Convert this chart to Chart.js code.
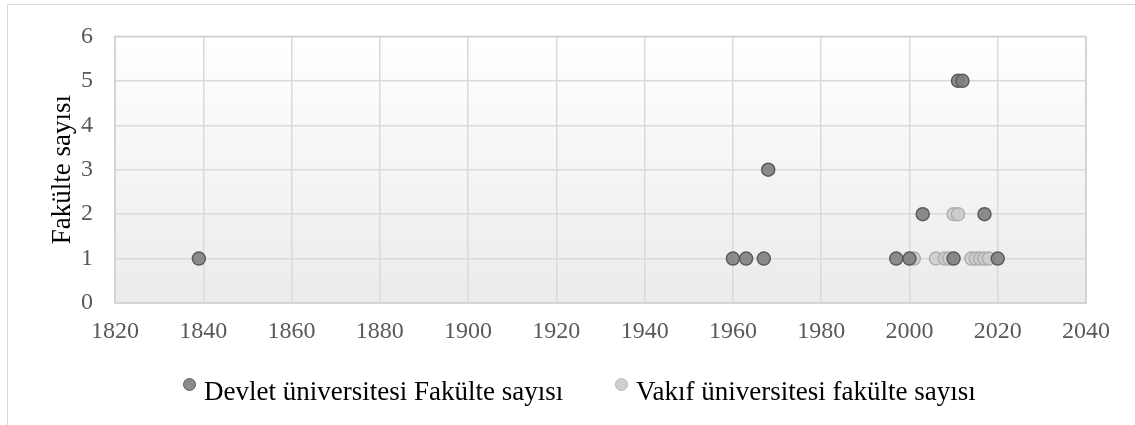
<!DOCTYPE html>
<html>
<head>
<meta charset="utf-8">
<script src="https://cdn.jsdelivr.net/npm/chart.js@4"></script>
<style>
    body { margin: 0; background: #fff; }
    #wrap { position: relative; width: 1135px; height: 425px; overflow: hidden; }
    #frame { position: absolute; left: 7px; top: 4px; width: 1140px; height: 440px; border: 1.5px solid #d9d9d9; }
    #legend { position: absolute; top: 376px; left: 0; width: 1135px; font-family: "Liberation Serif", serif; font-size: 27px; line-height: 31px; color: #000; }
    .item { position: absolute; white-space: nowrap; }
    .dot { display: inline-block; width: 11px; height: 11px; border-radius: 50%; margin-right: 8px; vertical-align: 9px; }
</style>
</head>
<body>
<div id="wrap">
    <div id="frame"></div>
    <canvas id="chart" width="1135" height="425" style="position:absolute;left:0;top:0"></canvas>
    <div id="legend">
        <span class="item" style="left:183px"><span class="dot" style="background:#8a8a8a;border:1px solid #5f5f5f"></span>Devlet üniversitesi Fakülte sayısı</span>
        <span class="item" style="left:615px"><span class="dot" style="background:#cfcfcf;border:1px solid #b5b5b5"></span>Vakıf üniversitesi fakülte sayısı</span>
    </div>
</div>
<script>
// -------------------------------
// DATA
// -------------------------------
const devletYears  = [1839, 1960, 1963, 1967, 1968, 1997, 2000, 2003, 2010, 2011, 2012, 2017, 2020];
const devletCounts = [1,    1,    1,    1,    3,    1,    1,    2,    1,    5,    5,    2,    1];

const vakifYears  = [2001, 2006, 2008, 2009, 2010, 2011, 2014, 2015, 2016, 2017, 2018];
const vakifCounts = [1,    1,    1,    1,    2,    2,    1,    1,    1,    1,    1];

const xMin = 1820, xMax = 2040, xStep = 20;
const yMin = 0, yMax = 6, yStep = 1;

const toPoints = (xs, ys) => xs.map((x, i) => ({ x: x, y: ys[i] }));

// -------------------------------
// PLOT AREA BACKGROUND + BORDER
// -------------------------------
const plotArea = {
    id: "plotArea",
    beforeDraw(chart) {
        const { ctx, chartArea: a } = chart;
        const g = ctx.createLinearGradient(0, a.top, 0, a.bottom);
        g.addColorStop(0, "#ffffff");
        g.addColorStop(1, "#ebebeb");
        ctx.save();
        ctx.fillStyle = g;
        ctx.fillRect(a.left, a.top, a.width, a.height);
        ctx.restore();
    },
    beforeDatasetsDraw(chart) {
        const { ctx, chartArea: a } = chart;
        ctx.save();
        ctx.strokeStyle = "#d0d0d0";
        ctx.lineWidth = 1.5;
        ctx.strokeRect(a.left, a.top, a.width, a.height);
        ctx.restore();
    }
};

const tickFont = { family: "Liberation Serif", size: 24 };

new Chart(document.getElementById("chart"), {
    type: "scatter",
    data: {
        datasets: [
            {
                label: "Devlet üniversitesi Fakülte sayısı",
                data: toPoints(devletYears, devletCounts),
                backgroundColor: "rgba(128,128,128,0.9)",
                borderColor: "#5a5a5a",
                borderWidth: 1.5,
                pointRadius: 6.5,
                pointHoverRadius: 6.5
            },
            {
                label: "Vakıf üniversitesi fakülte sayısı",
                data: toPoints(vakifYears, vakifCounts),
                backgroundColor: "rgba(205,205,205,0.85)",
                borderColor: "rgba(170,170,170,0.9)",
                borderWidth: 1.5,
                pointRadius: 6.5,
                pointHoverRadius: 6.5
            }
        ]
    },
    options: {
        responsive: false,
        animation: false,
        layout: { padding: { top: 34, right: 49, left: 0, bottom: 0 } },
        plugins: {
            legend: { display: false },
            tooltip: { enabled: false }
        },
        scales: {
            x: {
                type: "linear",
                min: xMin, max: xMax,
                afterFit(s) { s.height = 122; },
                grid: { color: "#d9d9d9", lineWidth: 1.5, drawTicks: false },
                border: { display: false },
                ticks: { stepSize: xStep, padding: 14, color: "#595959", font: tickFont, callback: v => String(v) }
            },
            y: {
                min: yMin, max: yMax,
                afterFit(s) { s.width = 115; },
                grid: { color: "#d9d9d9", lineWidth: 1.5, drawTicks: false },
                border: { display: false },
                ticks: { stepSize: yStep, padding: 22, color: "#595959", font: tickFont },
                title: {
                    display: true,
                    text: "Fakülte sayısı",
                    color: "#000",
                    font: { family: "Liberation Serif", size: 27 },
                    padding: { top: 47, bottom: 0 }
                }
            }
        }
    },
    plugins: [plotArea]
});
</script>
</body>
</html>
